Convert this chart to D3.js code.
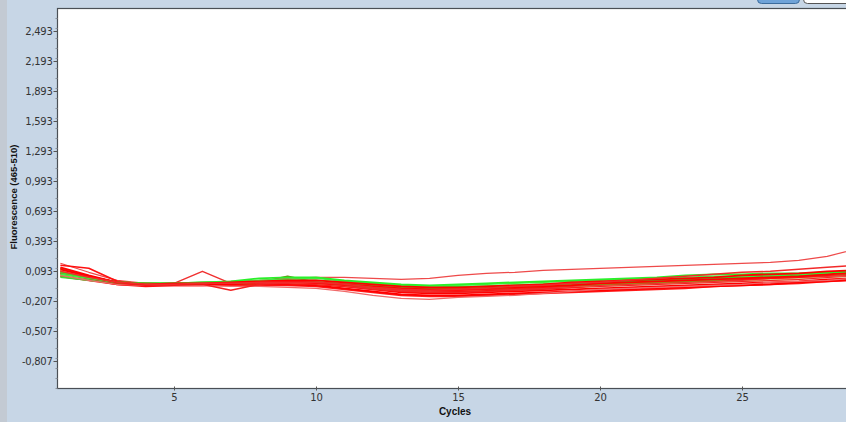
<!DOCTYPE html>
<html>
<head>
<meta charset="utf-8">
<script src="https://cdn.jsdelivr.net/npm/d3@7/dist/d3.min.js"></script>
<style>
  html, body { margin: 0; padding: 0; background: #c7d6e6; }
  svg { display: block; font-family: Tahoma, "DejaVu Sans", Arial, sans-serif; }
</style>
</head>
<body>
<svg id="chart" width="846" height="422"></svg>
<script>
// ---- data ----
const cycles = [1,2,3,4,5,6,7,8,9,10,11,12,13,14,15,16,17,18,19,20,21,22,23,24,25,26,27,28,29];
const xTickValues = [5, 10, 15, 20, 25];
const yTickValues = [2.493, 2.193, 1.893, 1.593, 1.293, 0.993, 0.693, 0.393, 0.093, -0.207, -0.507, -0.807];
const yTickLabels = ["2,493","2,193","1,893","1,593","1,293","0,993","0,693","0,393","0,093","-0,207","-0,507","-0,807"];

const olive1 = [0.07,0.02,-0.03,-0.04,-0.04,-0.03,-0.03,-0.02,0.04,-0.02,-0.04,-0.06,-0.08,-0.09,-0.08,-0.07,-0.06,-0.05,-0.04,-0.03,-0.02,-0.01,0.0,0.01,0.02,0.03,0.04,0.05,0.06];
const olive2 = [0.12,0.04,-0.02,-0.04,-0.04,-0.03,-0.03,-0.02,-0.02,-0.02,-0.04,-0.07,-0.08,-0.09,-0.08,-0.08,-0.07,-0.06,-0.05,-0.04,-0.03,-0.02,-0.01,0.0,0.02,0.03,0.04,0.06,0.07];
const olive3 = [0.04,0.0,-0.03,-0.05,-0.05,-0.04,-0.04,-0.03,-0.03,-0.03,-0.05,-0.08,-0.1,-0.11,-0.11,-0.1,-0.09,-0.08,-0.07,-0.05,-0.04,-0.03,-0.02,-0.01,0.0,0.02,0.03,0.04,0.06];
const tan1   = [0.05,0.01,-0.03,-0.05,-0.05,-0.04,-0.04,-0.03,-0.03,-0.04,-0.06,-0.08,-0.11,-0.12,-0.11,-0.1,-0.09,-0.08,-0.07,-0.06,-0.05,-0.04,-0.03,-0.02,-0.01,0.0,0.01,0.03,0.04];
const tan2   = [0.1,0.03,-0.02,-0.03,-0.03,-0.03,-0.02,-0.02,-0.02,-0.03,-0.05,-0.07,-0.09,-0.1,-0.1,-0.09,-0.08,-0.07,-0.06,-0.05,-0.04,-0.03,-0.02,-0.01,0.0,0.01,0.02,0.04,0.05];
const brown1 = [0.09,0.03,-0.02,-0.04,-0.04,-0.03,-0.02,-0.02,-0.01,-0.02,-0.03,-0.05,-0.07,-0.08,-0.08,-0.07,-0.06,-0.05,-0.04,-0.03,-0.02,-0.01,0.0,0.01,0.02,0.03,0.04,0.05,0.06];

const green1 = [0.08,0.03,-0.02,-0.03,-0.03,-0.02,-0.01,0.02,0.03,0.03,0.0,-0.02,-0.04,-0.05,-0.04,-0.03,-0.02,-0.01,0.0,0.01,0.02,0.03,0.05,0.06,0.06,0.07,0.07,0.08,0.09];
const green2 = [0.06,0.02,-0.02,-0.03,-0.03,-0.02,-0.02,0.0,0.01,0.02,-0.01,-0.03,-0.05,-0.06,-0.05,-0.04,-0.03,-0.02,-0.01,0.0,0.01,0.02,0.03,0.04,0.04,0.05,0.06,0.07,0.08];
const green3 = [0.1,0.03,-0.02,-0.03,-0.03,-0.03,-0.02,-0.01,0.0,0.0,-0.02,-0.04,-0.06,-0.07,-0.06,-0.06,-0.05,-0.04,-0.03,-0.02,-0.01,0.0,0.01,0.02,0.03,0.04,0.05,0.06,0.07];
const green4 = [0.03,0.0,-0.03,-0.04,-0.04,-0.03,-0.03,-0.02,-0.02,-0.02,-0.04,-0.06,-0.08,-0.08,-0.07,-0.06,-0.05,-0.04,-0.03,-0.02,-0.01,0.0,0.01,0.02,0.03,0.04,0.05,0.06,0.07];

const red1  = [0.17,0.08,0.0,-0.03,-0.03,-0.02,-0.01,0.0,0.02,0.03,0.03,0.02,0.01,0.02,0.05,0.07,0.08,0.10,0.11,0.12,0.13,0.14,0.15,0.16,0.17,0.18,0.20,0.24,0.31];
const red2  = [0.05,0.0,-0.04,-0.05,-0.05,-0.05,-0.06,-0.06,-0.07,-0.08,-0.11,-0.15,-0.18,-0.19,-0.17,-0.16,-0.15,-0.13,-0.11,-0.09,-0.08,-0.07,-0.06,-0.05,-0.04,-0.02,-0.01,0.0,0.02];
const red3  = [0.12,0.04,-0.02,-0.04,-0.03,0.09,-0.03,-0.03,-0.02,-0.03,-0.05,-0.08,-0.1,-0.11,-0.1,-0.09,-0.09,-0.08,-0.06,-0.05,-0.04,-0.03,-0.02,-0.01,0.0,0.02,0.03,0.04,0.05];
const red4  = [0.07,0.02,-0.03,-0.05,-0.05,-0.04,-0.1,-0.04,-0.03,-0.04,-0.06,-0.09,-0.11,-0.12,-0.12,-0.11,-0.1,-0.09,-0.07,-0.06,-0.05,-0.04,-0.03,-0.02,-0.01,0.0,0.01,0.03,0.05];
const red5  = [0.15,0.12,-0.01,-0.04,-0.04,-0.03,-0.03,-0.02,-0.02,-0.03,-0.05,-0.07,-0.09,-0.1,-0.1,-0.09,-0.08,-0.07,-0.05,-0.04,-0.03,-0.02,-0.01,0.0,0.01,0.02,0.03,0.05,0.07];
const red6  = [0.1,0.03,-0.03,-0.04,-0.04,-0.04,-0.03,-0.03,-0.03,-0.03,-0.05,-0.08,-0.1,-0.11,-0.11,-0.1,-0.09,-0.08,-0.07,-0.05,-0.04,-0.03,-0.02,-0.01,0.0,0.01,0.02,0.04,0.05];
const red7  = [0.08,0.02,-0.03,-0.05,-0.04,-0.04,-0.04,-0.03,-0.03,-0.04,-0.06,-0.09,-0.12,-0.13,-0.13,-0.12,-0.11,-0.1,-0.09,-0.08,-0.07,-0.06,-0.05,-0.04,-0.03,-0.02,-0.01,0.01,0.02];
const red8  = [0.13,0.05,-0.02,-0.03,-0.04,-0.03,-0.02,-0.02,-0.01,-0.02,-0.04,-0.06,-0.08,-0.09,-0.09,-0.08,-0.07,-0.06,-0.05,-0.03,-0.02,-0.01,0.0,0.01,0.02,0.03,0.04,0.06,0.08];
const red9  = [0.06,0.01,-0.04,-0.05,-0.05,-0.05,-0.04,-0.04,-0.04,-0.05,-0.08,-0.11,-0.14,-0.15,-0.15,-0.14,-0.13,-0.12,-0.11,-0.1,-0.09,-0.08,-0.07,-0.06,-0.05,-0.04,-0.02,-0.01,0.01];
const red10 = [0.11,0.04,-0.02,-0.04,-0.03,-0.03,-0.02,-0.01,0.0,0.0,-0.02,-0.04,-0.06,-0.07,-0.07,-0.06,-0.05,-0.04,-0.02,-0.01,0.0,0.01,0.02,0.03,0.05,0.06,0.07,0.09,0.1];
const red11 = [0.09,0.03,-0.02,-0.04,-0.04,-0.03,-0.03,-0.02,-0.02,-0.02,-0.04,-0.07,-0.09,-0.1,-0.09,-0.08,-0.06,-0.05,-0.03,-0.02,0.0,0.02,0.04,0.06,0.08,0.09,0.11,0.13,0.15];
const red12 = [0.04,0.0,-0.04,-0.06,-0.05,-0.05,-0.05,-0.05,-0.05,-0.06,-0.09,-0.12,-0.15,-0.16,-0.16,-0.15,-0.14,-0.13,-0.12,-0.11,-0.1,-0.09,-0.08,-0.06,-0.05,-0.04,-0.03,-0.01,0.0];

// series table built from the named arrays (drawing order: first = bottom)
const series = [
  {v: red12,  c: "#ff1a1a", w: 1.8},
  {v: red9,   c: "#ff0000", w: 1.8},
  {v: tan1,   c: "#d9b877", w: 1.6},
  {v: olive3, c: "#9a8a20", w: 1.4},
  {v: red7,   c: "#ff0000", w: 1.8},
  {v: red6,   c: "#ff0000", w: 1.8},
  {v: olive1, c: "#6f7a10", w: 1.4},
  {v: brown1, c: "#b8702a", w: 1.4},
  {v: green4, c: "#33dd33", w: 1.6},
  {v: red2,   c: "#f06a6a", w: 1.2},
  {v: red1,   c: "#ee4a4a", w: 1.2},
  {v: red4,   c: "#f22222", w: 1.4},
  {v: green3, c: "#22e622", w: 1.6},
  {v: tan2,   c: "#e0c080", w: 1.4},
  {v: red3,   c: "#f03030", w: 1.4},
  {v: red5,   c: "#ff1010", w: 1.6},
  {v: olive2, c: "#8c9a1c", w: 1.4},
  {v: green2, c: "#44ee44", w: 1.6},
  {v: red8,   c: "#ff0000", w: 1.8},
  {v: green1, c: "#2af02a", w: 1.8},
  {v: red10,  c: "#ff0000", w: 1.8},
  {v: red11,  c: "#f22a2a", w: 1.4}
];

// ---- layout ----
const svg = d3.select("#chart");
const W = 846, H = 422;
const plotLeft = 57.5, plotTop = 8.5, plotBottom = 388.5, plotRight = 860;

// left greyish strip
svg.append("rect").attr("x", 0).attr("y", 0).attr("width", 7).attr("height", H).attr("fill", "#c3cad3");

// top-right buttons
svg.append("rect").attr("x", 757.5).attr("y", -8).attr("width", 42).attr("height", 11.5).attr("rx", 4)
  .attr("fill", "#6fa3d8").attr("stroke", "#3c6c9c");
svg.append("rect").attr("x", 803.5).attr("y", -8).attr("width", 50).attr("height", 11.5).attr("rx", 4)
  .attr("fill", "#ffffff").attr("stroke", "#555");

// plot area
svg.append("rect").attr("x", plotLeft).attr("y", plotTop)
  .attr("width", plotRight - plotLeft).attr("height", plotBottom - plotTop)
  .attr("fill", "#ffffff").attr("stroke", "#4a4f55").attr("stroke-width", 1.2);

const x = d3.scaleLinear().domain([1, 29]).range([60.4, 60.4 + 28 * 28.4]);
const y = d3.scaleLinear().domain([-1.077, 2.723]).range([388, 8]);

svg.append("clipPath").attr("id", "clip").append("rect")
  .attr("x", plotLeft + 0.6).attr("y", plotTop + 0.6)
  .attr("width", W - plotLeft).attr("height", plotBottom - plotTop - 1.2);

const line = d3.line().x((d, i) => x(cycles[i])).y(d => y(d));

const g = svg.append("g").attr("clip-path", "url(#clip)");
g.selectAll("path.s").data(series).join("path")
  .attr("class", "s")
  .attr("d", d => line(d.v))
  .attr("fill", "none")
  .attr("stroke", d => d.c)
  .attr("stroke-width", d => d.w)
  .attr("stroke-linejoin", "round");

// Y axis
const yAxis = d3.axisLeft(y).tickValues(yTickValues)
  .tickFormat((d, i) => yTickLabels[i]).tickSize(4).tickPadding(1);
const yg = svg.append("g").attr("transform", `translate(${plotLeft},0)`).call(yAxis);
yg.select(".domain").remove();
yg.selectAll(".tick line").attr("stroke", "#555");
yg.selectAll(".tick text").attr("fill", "#333").attr("font-size", "10px")
  .attr("font-family", "Tahoma, 'DejaVu Sans', Arial, sans-serif").attr("letter-spacing", "-0.3px");

// minor y ticks
const yMinor = d3.range(-1.077, 2.723, 0.1);
svg.append("g").selectAll("line").data(yMinor).join("line")
  .attr("x1", plotLeft - 2).attr("x2", plotLeft)
  .attr("y1", d => Math.round(y(d)) + 0.5).attr("y2", d => Math.round(y(d)) + 0.5)
  .attr("stroke", "#8a9099").attr("stroke-width", 1);

// X axis
const xAxis = d3.axisBottom(x).tickValues(xTickValues).tickSize(4).tickPadding(3);
const xg = svg.append("g").attr("transform", `translate(0,${plotBottom - 2})`).call(xAxis);
xg.select(".domain").remove();
xg.selectAll(".tick line").attr("stroke", "#555");
xg.selectAll(".tick text").attr("fill", "#333").attr("font-size", "10px")
  .attr("font-family", "Tahoma, 'DejaVu Sans', Arial, sans-serif");

// axis titles
svg.append("text").attr("x", 455).attr("y", 415).attr("text-anchor", "middle")
  .attr("font-size", "10px").attr("font-weight", "bold").attr("fill", "#111")
  .attr("font-family", "Arial, 'Liberation Sans', sans-serif")
  .text("Cycles");
svg.append("text").attr("transform", "translate(17,197) rotate(-90)").attr("text-anchor", "middle")
  .attr("font-size", "9.5px").attr("font-weight", "bold").attr("fill", "#111")
  .attr("font-family", "Arial, 'Liberation Sans', sans-serif")
  .text("Fluorescence (465-510)");
</script>
</body>
</html>
